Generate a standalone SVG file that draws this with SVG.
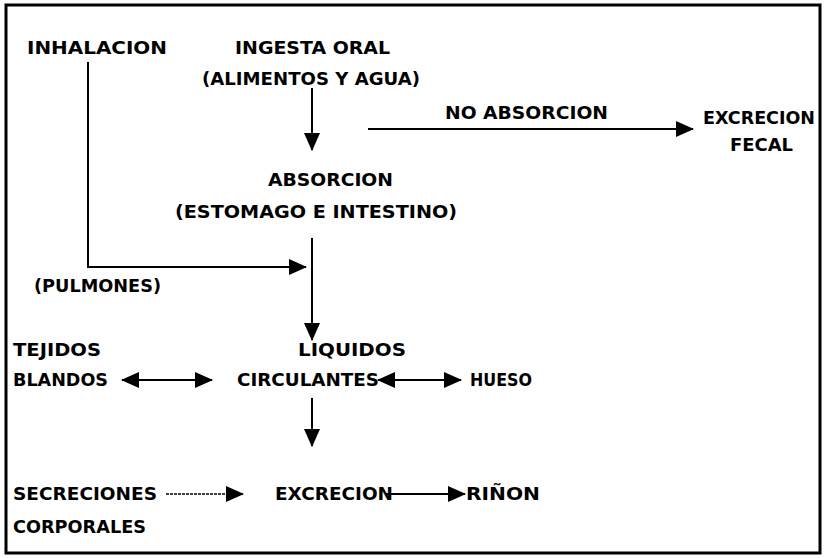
<svg xmlns="http://www.w3.org/2000/svg" width="827" height="558" viewBox="0 0 827 558">
<style>
text{font-family:"DejaVu Sans","Liberation Sans",sans-serif;font-weight:bold;font-size:18px;fill:#000}
.ln{stroke:#000;stroke-width:2;fill:none}
.dot{stroke:#000;stroke-width:1.6;fill:none;stroke-dasharray:3 1}
</style>
<defs>
<marker id="ah" markerUnits="userSpaceOnUse" markerWidth="18" markerHeight="16" refX="17" refY="8" orient="auto-start-reverse" viewBox="0 0 18 16">
<path d="M0,0 L18,8 L0,16 Z" fill="#000"/>
</marker>
</defs>
<rect x="6" y="5" width="814" height="548" fill="#fff" stroke="#000" stroke-width="3"/>
<g id="inhalacion"><text x="27" y="54" textLength="140" lengthAdjust="spacingAndGlyphs">INHALACION</text></g>
<g id="ingesta"><text x="235" y="54" textLength="155" lengthAdjust="spacingAndGlyphs">INGESTA ORAL</text>
<text x="202" y="85" textLength="218" lengthAdjust="spacingAndGlyphs">(ALIMENTOS Y AGUA)</text></g>
<g id="noabsorcion"><text x="445" y="119" textLength="163" lengthAdjust="spacingAndGlyphs">NO ABSORCION</text></g>
<g id="fecal"><text x="703" y="124" textLength="112" lengthAdjust="spacingAndGlyphs">EXCRECION</text>
<text x="730" y="151" textLength="63" lengthAdjust="spacingAndGlyphs">FECAL</text></g>
<g id="absorcion"><text x="268" y="186" textLength="125" lengthAdjust="spacingAndGlyphs">ABSORCION</text>
<text x="175" y="218" textLength="282" lengthAdjust="spacingAndGlyphs">(ESTOMAGO E INTESTINO)</text></g>
<g id="pulmones"><text x="34" y="292" textLength="127" lengthAdjust="spacingAndGlyphs">(PULMONES)</text></g>
<g id="tejidos"><text x="13" y="356" textLength="88" lengthAdjust="spacingAndGlyphs">TEJIDOS</text>
<text x="13" y="386" textLength="95" lengthAdjust="spacingAndGlyphs">BLANDOS</text></g>
<g id="liquidos"><text x="298" y="356" textLength="108" lengthAdjust="spacingAndGlyphs">LIQUIDOS</text>
<text x="237" y="386" textLength="142" lengthAdjust="spacingAndGlyphs">CIRCULANTES</text></g>
<g id="hueso"><text x="470" y="386" textLength="62" lengthAdjust="spacingAndGlyphs">HUESO</text></g>
<g id="secreciones"><text x="13" y="500" textLength="144" lengthAdjust="spacingAndGlyphs">SECRECIONES</text>
<text x="13" y="533" textLength="133" lengthAdjust="spacingAndGlyphs">CORPORALES</text></g>
<g id="excrecion"><text x="275" y="500" textLength="118" lengthAdjust="spacingAndGlyphs">EXCRECION</text></g>
<g id="rinon"><text x="466" y="500" textLength="74" lengthAdjust="spacingAndGlyphs">RIÑON</text></g>
<g id="connectors">
<line class="ln" x1="312" y1="88" x2="312" y2="150" marker-end="url(#ah)"/>
<line class="ln" x1="368" y1="129" x2="693" y2="129" marker-end="url(#ah)"/>
<polyline class="ln" points="88,62 88,267 306,267" marker-end="url(#ah)"/>
<line class="ln" x1="312" y1="238" x2="312" y2="340" marker-end="url(#ah)"/>
<line class="ln" x1="122" y1="380" x2="212" y2="380" marker-start="url(#ah)" marker-end="url(#ah)"/>
<line class="ln" x1="378" y1="380" x2="461" y2="380" marker-start="url(#ah)" marker-end="url(#ah)"/>
<line class="ln" x1="312" y1="398" x2="312" y2="446" marker-end="url(#ah)"/>
<line class="dot" x1="166" y1="494" x2="243" y2="494" marker-end="url(#ah)"/>
<line class="ln" x1="385" y1="494" x2="465" y2="494" marker-end="url(#ah)"/>
</g>
</svg>
